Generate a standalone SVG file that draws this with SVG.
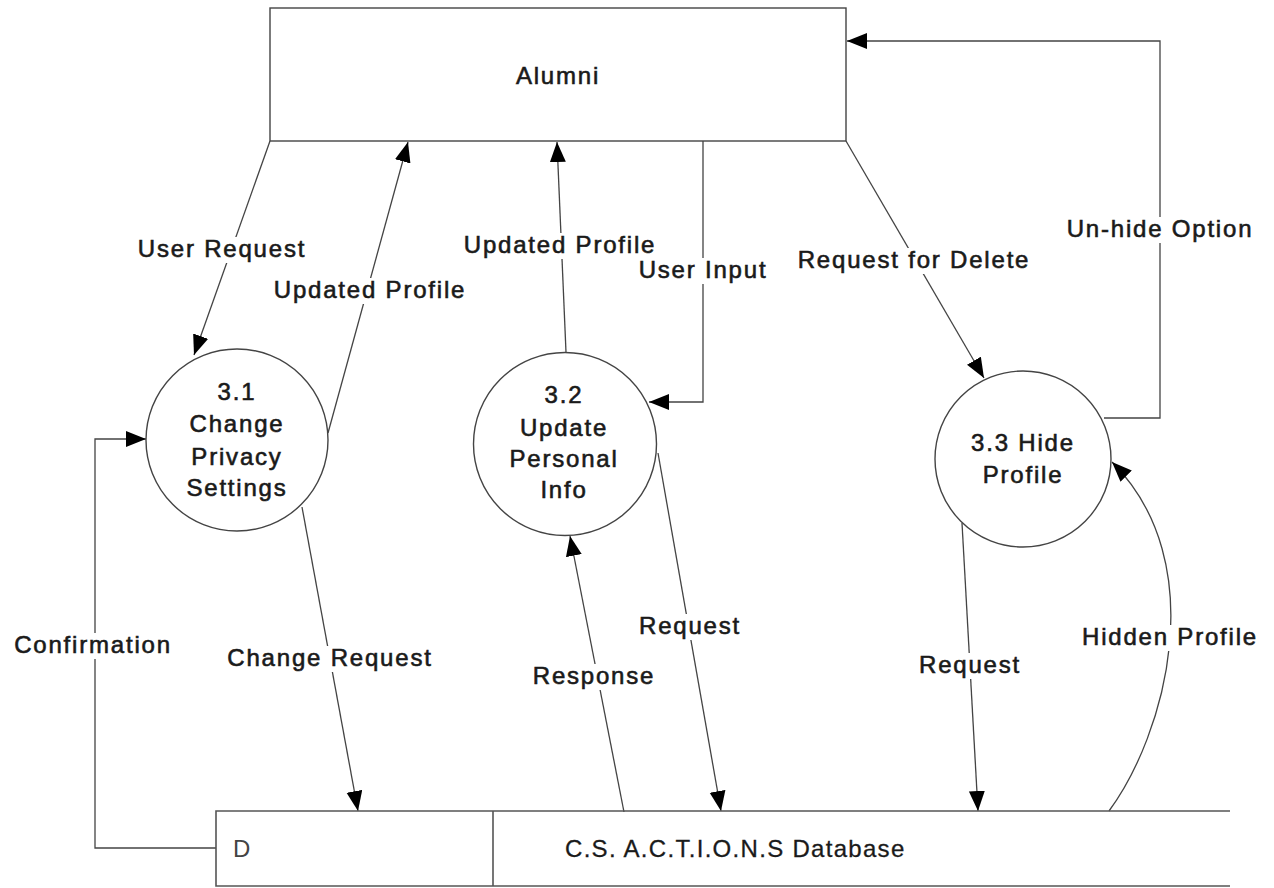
<svg xmlns="http://www.w3.org/2000/svg" width="1274" height="888" viewBox="0 0 1274 888">
<defs>
<style>
.bg{fill:#ffffff}
.box{fill:#ffffff;stroke:#444;stroke-width:1.4}
.proc{fill:#ffffff;stroke:#444;stroke-width:1.4}
.ds{fill:none;stroke:#555;stroke-width:1.6}
.flow{fill:none;stroke:#444;stroke-width:1.3;marker-end:url(#arr)}
.halo{fill:#ffffff;stroke:none}
text{font-family:"Liberation Sans",Arial,sans-serif;font-size:24px;fill:#1a1a1a;stroke:#1a1a1a;stroke-width:0.6px;letter-spacing:1.8px}
.c{text-anchor:middle}
.thin{fill:#444;stroke:none;letter-spacing:0}
.dsname{stroke-width:0.3px;letter-spacing:1.3px}
</style>
<marker id="arr" markerUnits="userSpaceOnUse" markerWidth="22" markerHeight="18" refX="20" refY="8" orient="auto">
<path d="M0,0 L20,8 L0,16 z" fill="#000"/>
</marker>
</defs>
<rect class="bg" x="0" y="0" width="1274" height="888"/>

<g id="connectors">
<path id="c-user-request" class="flow" d="M270,141 L194,355"/>
<path id="c-upd-31" class="flow" d="M328,433 L408,142"/>
<path id="c-upd-32" class="flow" d="M566,352 L557,142"/>
<path id="c-user-input" class="flow" d="M703,141 L703,402 L649,402"/>
<path id="c-req-delete" class="flow" d="M846,141 L984,378"/>
<path id="c-unhide" class="flow" d="M1104,418 L1160,418 L1160,41 L847,41"/>
<path id="c-change-req" class="flow" d="M302,507 L358,811"/>
<path id="c-confirm" class="flow" d="M216,848 L95,848 L95,439 L146,439"/>
<path id="c-response" class="flow" d="M624,812 L570,536"/>
<path id="c-req-32" class="flow" d="M658,453 L721,811"/>
<path id="c-req-33" class="flow" d="M962,523 L978,811"/>
<path id="c-hidden" class="flow" d="M1109,811 C1165,735 1213,563 1112,462"/>
</g>

<g id="labels">
<rect class="halo" x="134" y="237" width="176" height="26"/>
<text class="c" x="222" y="257">User Request</text>
<rect class="halo" x="271" y="278" width="198" height="26"/>
<text class="c" x="370" y="298">Updated Profile</text>
<rect class="halo" x="461" y="233" width="198" height="26"/>
<text class="c" x="560" y="253">Updated Profile</text>
<rect class="halo" x="636" y="258" width="135" height="26"/>
<text class="c" x="703" y="278">User Input</text>
<rect class="halo" x="794" y="248" width="240" height="26"/>
<text class="c" x="914" y="268">Request for Delete</text>
<rect class="halo" x="1063" y="217" width="194" height="26"/>
<text class="c" x="1160" y="237">Un-hide Option</text>
<rect class="halo" x="11" y="633" width="164" height="26"/>
<text class="c" x="93" y="653">Confirmation</text>
<rect class="halo" x="224" y="646" width="212" height="26"/>
<text class="c" x="330" y="666">Change Request</text>
<rect class="halo" x="636" y="614" width="108" height="26"/>
<text class="c" x="690" y="634">Request</text>
<rect class="halo" x="529" y="664" width="130" height="26"/>
<text class="c" x="594" y="684">Response</text>
<rect class="halo" x="916" y="653" width="108" height="26"/>
<text class="c" x="970" y="673">Request</text>
<rect class="halo" x="1079" y="625" width="182" height="26"/>
<text class="c" x="1170" y="645">Hidden Profile</text>
</g>

<g id="alumni">
<rect class="box" x="270" y="8" width="576" height="133"/>
<text class="c" x="558" y="84">Alumni</text>
</g>

<g id="p31">
<circle class="proc" cx="237" cy="440" r="91"/>
<text class="c" x="237" y="400">3.1</text>
<text class="c" x="237" y="432">Change</text>
<text class="c" x="237" y="465">Privacy</text>
<text class="c" x="237" y="496">Settings</text>
</g>

<g id="p32">
<circle class="proc" cx="565" cy="444" r="91.5"/>
<text class="c" x="564" y="403">3.2</text>
<text class="c" x="564" y="436">Update</text>
<text class="c" x="564" y="467">Personal</text>
<text class="c" x="564" y="498">Info</text>
</g>

<g id="p33">
<circle class="proc" cx="1023" cy="459" r="88"/>
<text class="c" x="1023" y="451">3.3 Hide</text>
<text class="c" x="1023" y="483">Profile</text>
</g>

<g id="datastore">
<path class="ds" d="M1230,811 L216,811 L216,886 L1230,886 M493,811 L493,886"/>
<text class="thin" x="233" y="857">D</text>
<text class="dsname" x="565" y="857">C.S. A.C.T.I.O.N.S Database</text>
</g>
</svg>
